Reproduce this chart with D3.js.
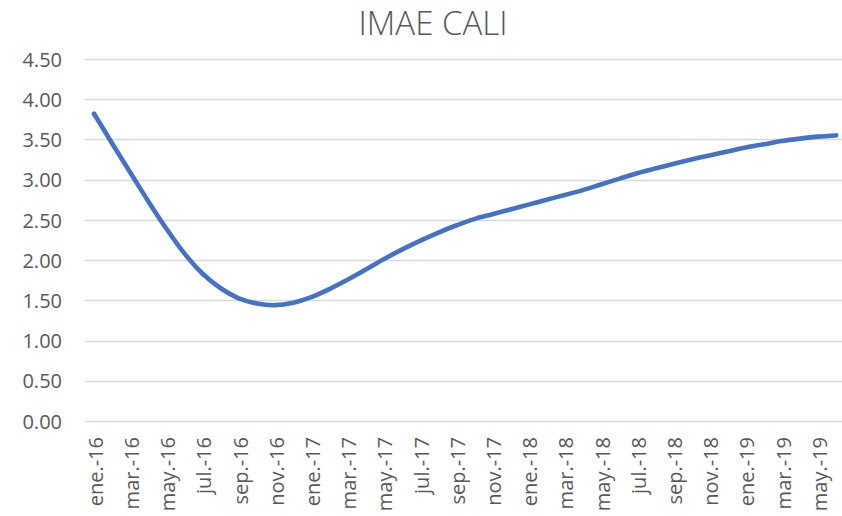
<!DOCTYPE html>
<html>
<head>
<meta charset="utf-8">
<script src="https://cdn.jsdelivr.net/npm/d3@7"></script>
<style>
  html, body { margin: 0; padding: 0; background: #fff; }
  svg { display: block; }
</style>
</head>
<body>
<svg id="chart" width="842" height="516"></svg>
<script>
const title = "IMAE CALI";
const months = ["ene.", "feb.", "mar.", "abr.", "may.", "jun.", "jul.", "ago.", "sep.", "oct.", "nov.", "dic."];
const years = ["16", "17", "18", "19"];
const categories = [];
years.forEach(yr => months.forEach(m => categories.push(m + "-" + yr)));
categories.splice(42); // ene.-16 .. jun.-19

const values = [
  3.82, 3.45, 3.09, 2.73, 2.39, 2.08, 1.83, 1.65, 1.525, 1.46, 1.44, 1.47,
  1.54, 1.64, 1.755, 1.88, 2.01, 2.13, 2.24, 2.34, 2.43, 2.51, 2.57, 2.63,
  2.69, 2.75, 2.81, 2.87, 2.94, 3.01, 3.08, 3.14, 3.195, 3.25, 3.30, 3.35,
  3.40, 3.44, 3.48, 3.51, 3.535, 3.55
];
const yTicks = [0, 0.5, 1, 1.5, 2, 2.5, 3, 3.5, 4, 4.5];
const xTickLabels = categories.filter((d, i) => i % 2 === 0);

const svg = d3.select("#chart");
const mLeft = 85, mRight = 845.2, mTop = 59, mBottom = 421;
const font = "'Open Sans', 'Liberation Sans', sans-serif";
const textColor = "#595959";

const x = d3.scalePoint().domain(categories).range([mLeft, mRight]).padding(0.5);
const y = d3.scaleLinear().domain([0, 4.5]).range([mBottom, mTop]);

// Title
svg.append("text")
  .attr("x", 433).attr("y", 35)
  .attr("text-anchor", "middle")
  .attr("font-family", font)
  .attr("font-weight", 300)
  .attr("font-size", 33)
  .attr("fill", textColor)
  .text(title);

// Gridlines
svg.append("g")
  .selectAll("line")
  .data(yTicks)
  .join("line")
  .attr("x1", mLeft).attr("x2", 842)
  .attr("y1", d => Math.round(y(d)) + 0.5).attr("y2", d => Math.round(y(d)) + 0.5)
  .attr("stroke", "#d9d9d9").attr("stroke-width", 1.3);

// Y axis labels
const yAxis = d3.axisLeft(y).tickValues(yTicks).tickFormat(d3.format(".2f")).tickSize(0).tickPadding(0);
const gy = svg.append("g").attr("transform", `translate(62,0)`).call(yAxis);
gy.select(".domain").remove();
gy.selectAll("text")
  .attr("font-family", font).attr("font-size", 20).attr("fill", textColor)
  .attr("dy", "0.36em");

// X axis labels
const xAxis = d3.axisBottom(x).tickValues(xTickLabels).tickSize(0).tickPadding(0);
const gx = svg.append("g").attr("transform", `translate(0,${mBottom})`).call(xAxis);
gx.select(".domain").remove();
gx.selectAll("text")
  .attr("font-family", font).attr("font-size", 20).attr("fill", textColor)
  .attr("text-anchor", "end")
  .attr("transform", "translate(1,16) rotate(-90)")
  .attr("x", 0).attr("y", 0).attr("dy", "0.36em");

// Line
const line = d3.line()
  .x((d, i) => x(categories[i]))
  .y(d => y(d))
  .curve(d3.curveCatmullRom.alpha(0.5));

svg.append("path")
  .datum(values)
  .attr("d", line)
  .attr("fill", "none")
  .attr("stroke", "#4472C4")
  .attr("stroke-width", 4.6)
  .attr("stroke-linecap", "round")
  .attr("stroke-linejoin", "round");
</script>
</body>
</html>
